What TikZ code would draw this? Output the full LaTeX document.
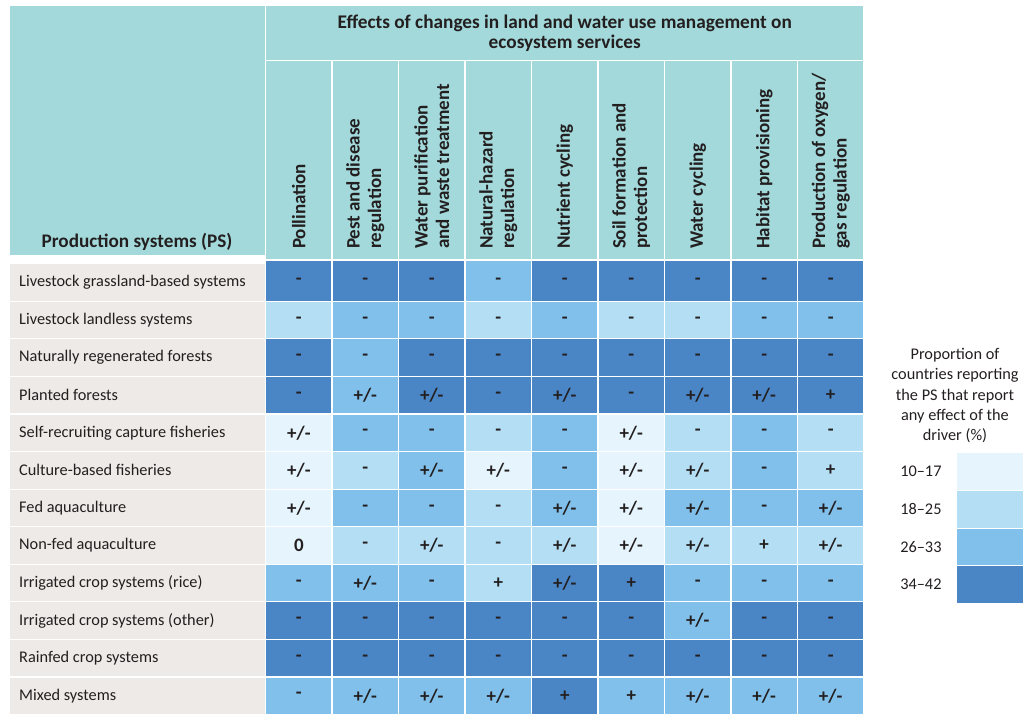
\documentclass[tikz,border=0pt]{standalone}
\usepackage{fontspec}
\setmainfont{Carlito}
\definecolor{hdrteal}{HTML}{A3D9DA}
\definecolor{rowbg}{HTML}{EEEAE7}
\definecolor{lv1}{HTML}{E6F5FD}
\definecolor{lv2}{HTML}{B4DEF3}
\definecolor{lv3}{HTML}{80C0EA}
\definecolor{lv4}{HTML}{4A86C6}
\definecolor{ink}{HTML}{231F20}
\newcommand{\symm}{-}
\newcommand{\sympm}{+/-}
\newcommand{\symp}{+}
\newcommand{\symz}{0}
\tikzset{
  hdrbox/.style={fill=hdrteal, draw=white, line width=1.2pt, inner sep=0pt, anchor=north west},
  colhead/.style={rotate=90, anchor=west, align=left, font=\fontsize{19}{21.5}\selectfont\bfseries, text=ink, inner sep=0pt},
  labbox/.style={fill=rowbg, draw=white, line width=1.2pt, inner sep=0pt, anchor=north west, minimum width=256pt},
  labtext/.style={anchor=west, font=\fontsize{16.3}{20}\selectfont, text=ink, inner sep=0pt},
  cellbox/.style={draw=white, line width=1.2pt, inner sep=0pt, anchor=north west, minimum width=66.48pt, font=\fontsize{19}{22}\selectfont\bfseries, text=ink},
  legbox/.style={inner sep=0pt, anchor=north west, minimum width=68pt, minimum height=37.6pt, draw=white, line width=1pt},
  legtext/.style={anchor=east, font=\fontsize{16.3}{20}\selectfont, text=ink, inner sep=0pt}
}
\newcommand{\tabrow}[3]{%
  \pgfmathsetmacro{\rtop}{ifthenelse(#1==1,262.5,300.7+(#1-2)*37.57)}%
  \pgfmathsetmacro{\rbot}{300.7+(#1-1)*37.57}%
  \pgfmathsetmacro{\dtop}{ifthenelse(#1==1,260,\rtop)}%
  \node[labbox, minimum height={(\rbot-\rtop)*1pt}] (lab-#1) at (9,\rtop) {};
  \node[labtext] (labt-#1) at ([xshift=10pt]lab-#1.west) {#2};
  \foreach \lv/\sy [count=\c] in {#3} {
    \node[cellbox, fill=lv\lv, minimum height={(\rbot-\dtop)*1pt}] (cell-#1-\c) at ({265+(\c-1)*66.48},\dtop) {\csname sym\sy\endcsname};
  }%
}
\begin{document}
\begin{tikzpicture}[x=1pt,y=-1pt]
\useasboundingbox (0,0) rectangle (1023,714);
% header
\node[hdrbox, minimum width=256pt, minimum height=250pt] (ps) at (9,5) {};
\node[font=\fontsize{19.2}{20}\selectfont\bfseries, text=ink, inner sep=0pt] (pst) at (137,242) {Production systems (PS)};
\node[hdrbox, minimum width=598.3pt, minimum height=55pt, align=center, font=\fontsize{19.3}{20.5}\selectfont\bfseries, text=ink] (title) at (265,5) {Effects of changes in land and water use management on\\ecosystem services};
\foreach \t [count=\c] in {Pollination, Pest and disease\\regulation, Water purification\\and waste treatment, Natural-hazard\\regulation, Nutrient cycling, Soil formation and\\protection, Water cycling, Habitat provisioning, Production of oxygen/\\gas regulation} {
  \node[hdrbox, minimum width=66.48pt, minimum height=199pt] (ch-\c) at ({265+(\c-1)*66.48},60) {};
  \node[colhead] (cht-\c) at ([yshift=11pt]ch-\c.south) {\t};
}
% rows
\tabrow{1}{Livestock grassland-based systems}{4/m,4/m,4/m,3/m,4/m,4/m,4/m,4/m,4/m}
\tabrow{2}{Livestock landless systems}{2/m,3/m,3/m,2/m,3/m,2/m,2/m,3/m,3/m}
\tabrow{3}{Naturally regenerated forests}{4/m,3/m,4/m,4/m,4/m,4/m,4/m,4/m,4/m}
\tabrow{4}{Planted forests}{4/m,3/pm,4/pm,4/m,4/pm,4/m,4/pm,4/pm,4/p}
\tabrow{5}{Self-recruiting capture fisheries}{1/pm,3/m,3/m,2/m,3/m,1/pm,2/m,3/m,2/m}
\tabrow{6}{Culture-based fisheries}{1/pm,2/m,3/pm,1/pm,3/m,1/pm,2/pm,3/m,2/p}
\tabrow{7}{Fed aquaculture}{1/pm,3/m,3/m,2/m,3/pm,1/pm,3/pm,3/m,3/pm}
\tabrow{8}{Non-fed aquaculture}{1/z,2/m,2/pm,2/m,2/pm,1/pm,2/pm,2/p,2/pm}
\tabrow{9}{Irrigated crop systems (rice)}{3/m,3/pm,3/m,2/p,4/pm,4/p,3/m,3/m,3/m}
\tabrow{10}{Irrigated crop systems (other)}{4/m,4/m,4/m,4/m,4/m,4/m,3/pm,4/m,4/m}
\tabrow{11}{Rainfed crop systems}{4/m,4/m,4/m,4/m,4/m,4/m,4/m,4/m,4/m}
\tabrow{12}{Mixed systems}{3/m,3/pm,3/pm,3/pm,4/p,3/p,3/pm,3/pm,3/pm}
% legend
\node[align=center, font=\fontsize{16.3}{20.3}\selectfont, text=ink, inner sep=0pt] (legt) at (955,395.5) {Proportion of\\countries reporting\\the PS that report\\any effect of the\\driver (\%)};
\foreach \lab [count=\i] in {10--17,18--25,26--33,34--42} {
  \node[legbox, fill=lv\i] (lg-\i) at (955.7,{452.3+(\i-1)*37.6}) {};
  \node[legtext] (lgt-\i) at ([xshift=-14pt]lg-\i.west) {\lab};
}
\end{tikzpicture}
\end{document}
